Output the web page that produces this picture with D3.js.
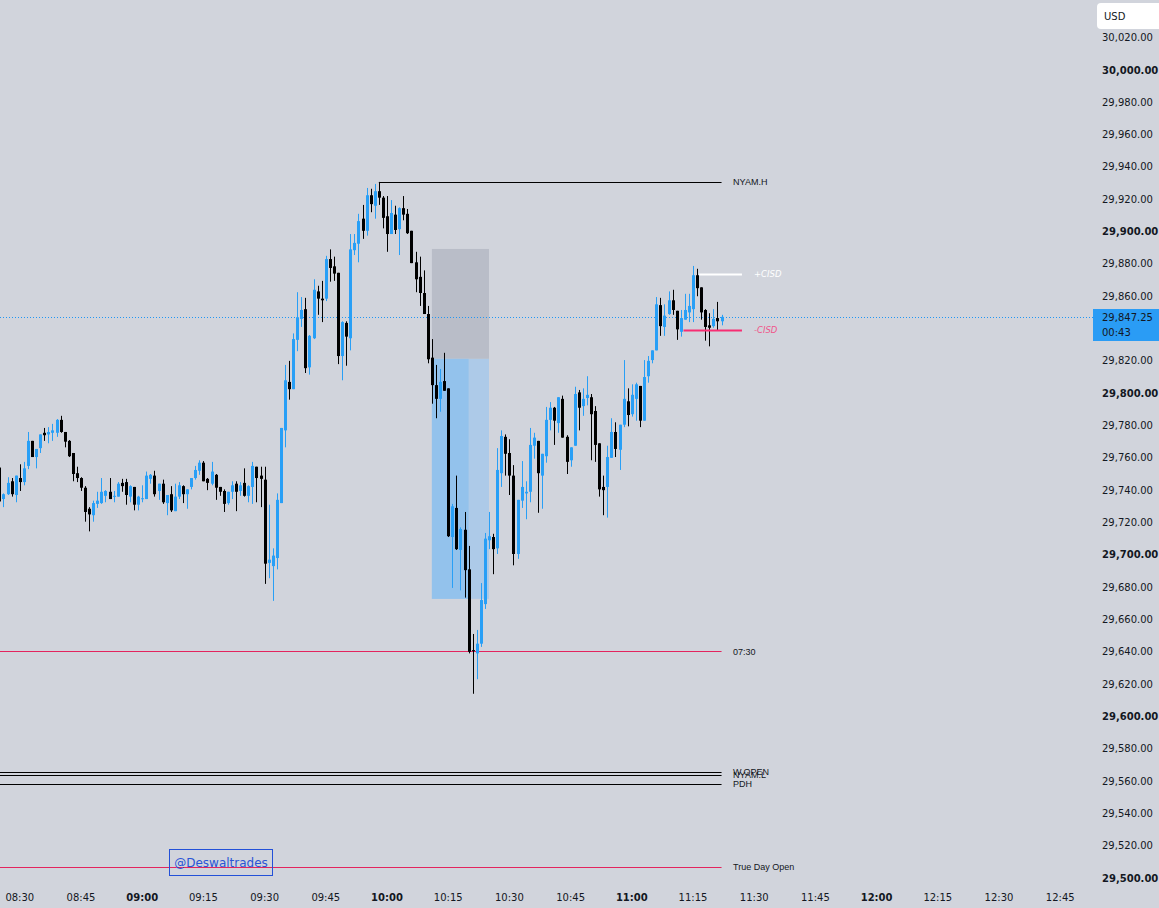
<!DOCTYPE html>
<html><head><meta charset="utf-8">
<script src="https://cdn.jsdelivr.net/npm/d3@7"></script>
<style>html,body{margin:0;padding:0;background:#d1d4dc;overflow:hidden}svg{display:block}</style>
</head><body><svg id="c" width="1159" height="908"></svg>
<script>
// ---------- DATA ----------
const firstCandle = "08:25";           // 1-minute candles
// [open, high, low, close]
const candles = [
[29754,29756,29732,29733],[29734.5,29738,29729.5,29737.5],[29737.5,29748,29737,29744.5],[29745.5,29747.5,29736,29737.5],
[29737,29749,29732.5,29749],[29747.5,29756,29739.5,29745],[29745,29757.5,29743,29753.5],[29755,29776,29753,29770.5],
[29770.5,29770.5,29760.5,29760.5],[29760.5,29765.5,29753.5,29765.5],[29766,29774.5,29763,29774.5],[29775.5,29778.5,29770.5,29774],
[29774.5,29779,29769,29776],[29775.5,29781,29770.5,29777],[29775.5,29784,29773,29783.5],[29783.5,29786,29775.5,29776],
[29776,29776,29766.5,29770],[29770.5,29771,29760.5,29761],[29763,29763,29745.5,29750],[29750.5,29754.5,29745,29747.5],
[29747.5,29748,29739.5,29741.5],[29741.5,29742.5,29720.5,29726.5],[29728.5,29729.5,29714.5,29725],[29724.5,29733.5,29720.5,29732],
[29731.5,29739,29729,29733.5],[29732,29747.5,29731.5,29739],[29736.5,29740,29732.5,29739.5],[29739,29747.5,29734.5,29734.5],
[29736,29739.5,29732.5,29736.5],[29736,29745,29736,29744],[29744.5,29747,29739,29742.5],[29745,29747,29731,29737],
[29736,29743,29732.5,29742.5],[29742,29742,29727.5,29731],[29731,29736.5,29727.5,29736],[29734.5,29743,29732.5,29735],
[29734.5,29751.5,29734.5,29749],[29747,29750,29744,29749.5],[29749,29752,29736,29737.5],[29739.5,29744,29734,29744],
[29744,29746.5,29731.5,29732.5],[29732,29737,29724.5,29737],[29737.5,29742.5,29726.5,29727.5],[29727,29744,29727,29736],
[29736,29745,29734.5,29743],[29742.5,29743,29732,29737.5],[29737.5,29740.5,29728.5,29740.5],[29742,29747.5,29740.5,29747.5],
[29747.5,29755,29746.5,29752.5],[29752,29758.5,29749.5,29757],[29757,29758,29745.5,29745.5],[29747,29747.5,29740,29744.5],
[29744,29757.5,29743,29751.5],[29749.5,29750,29734,29741.5],[29742,29742,29736.5,29739],[29739.5,29740.5,29726.5,29731.5],
[29732,29739,29731,29739],[29739,29745.5,29734.5,29743],[29744,29745.5,29727,29739],[29739.5,29745,29736.5,29743],
[29744.5,29753.5,29736,29736.5],[29736.5,29743,29732.5,29742.5],[29742,29757.5,29731.5,29755],[29754.5,29754.5,29732.5,29747.5],
[29749,29754.5,29729.5,29747],[29746.5,29754.5,29682,29694.5],[29695,29731,29685.5,29697],[29693,29704,29671.5,29699.5],
[29698,29738,29691,29734],[29732,29778.5,29732,29778.5],[29777,29817.5,29766.5,29808],[29807,29820,29796,29802.5],
[29802.5,29837,29802.5,29833.5],[29833,29862.5,29826,29847],[29846,29859.5,29841,29851.5],[29852,29859,29812.5,29815.5],
[29816,29836,29811.5,29835.5],[29834,29870.5,29833.5,29864],[29863,29866.5,29848.5,29858.5],[29858.5,29869.5,29844,29857.5],
[29858.5,29885,29857,29883],[29883,29889,29869,29877.5],[29878.5,29884.5,29869.5,29874],[29874.5,29874.5,29818,29823],
[29823,29844.5,29808,29844],[29843.5,29844.5,29817,29835],[29834,29898.5,29826.5,29889],[29888.5,29898.5,29885.5,29893],
[29892.5,29911,29881,29906.5],[29908,29916.5,29895.5,29900.5],[29900.5,29927,29897.5,29922.5],[29922.5,29926.5,29912,29917],
[29916,29929.5,29908,29925],[29925,29930.75,29916.5,29921],[29921,29922,29902,29908.5],[29909.5,29922,29887.5,29898.5],
[29898.5,29919.5,29898.5,29911.5],[29910.5,29916,29898.5,29901],[29901.5,29915,29885.5,29914.5],[29914.5,29922,29907,29910.5],
[29911,29914,29898.5,29899],[29900.5,29900.5,29880.5,29880.5],[29881,29887.5,29862.5,29870.5],[29872,29884.5,29854,29862],
[29862,29876,29849,29849],[29849,29854,29818.5,29821],[29822,29833.5,29793.5,29805],[29805,29817.5,29784.5,29796.5],
[29796.5,29815,29788.5,29807],[29807.5,29825,29801.5,29801.5],[29803,29803,29711,29711.5],[29711,29731.5,29679.5,29730],
[29729,29749,29703,29703.5],[29703,29717,29678,29716],[29715.5,29726.5,29673.5,29690.5],[29691,29705.5,29639,29640],
[29641,29651,29614,29640.5],[29639,29653.5,29623,29645],[29645,29682.5,29643,29672],[29669.5,29713.5,29666.5,29710],
[29709,29726.5,29703.5,29711.5],[29711,29713,29688,29703.5],[29704,29766,29700.5,29752.5],[29750.5,29777,29742,29773.5],
[29773,29774.5,29749,29762.5],[29763,29771.5,29737,29749],[29749,29755.5,29693.5,29700.5],[29700.5,29734,29697.5,29734],
[29733.5,29758,29729,29742],[29738,29745.5,29722,29739],[29739,29778.5,29732.5,29768],[29767.5,29775.5,29759.5,29772.5],
[29770.5,29770.5,29726,29750.5],[29749,29762.5,29728.5,29762.5],[29761,29791.5,29757,29783.5],[29783.5,29794.5,29777,29791],
[29791,29791.5,29768,29783],[29781.5,29797.5,29775.5,29797.5],[29796.5,29798.5,29772.5,29772.5],[29773,29774,29750,29757.5],
[29758.5,29766.5,29754.5,29766.5],[29767.5,29804,29767.5,29799.5],[29800.5,29802,29777,29791],[29792,29803,29786,29796.5],
[29797,29810.5,29792.5,29799],[29797.5,29799.5,29758.5,29787],[29789,29792,29757.5,29768],[29769,29769,29736,29740.5],
[29742,29749,29724.5,29740],[29742,29767.5,29723,29760.5],[29760,29784.5,29760,29776],[29776,29782,29760.5,29765.5],
[29765,29780.5,29752.5,29780.5],[29780.5,29820.5,29779,29796.5],[29795,29803,29779.5,29786.5],[29787,29805.5,29785.5,29799],
[29796.5,29806.5,29783,29805.5],[29804.5,29804.5,29779,29783],[29783,29820.5,29783,29810],[29810.5,29823,29806.5,29820],
[29820.5,29826.5,29818.5,29826.5],[29826.5,29859.5,29826.5,29855],[29854.5,29859,29835.5,29841.5],[29841,29855,29835.5,29848],
[29849,29863,29848.5,29857.5],[29857.5,29864,29848.5,29851.5],[29851,29851,29833,29839.5],[29838,29851.5,29835,29846.5],
[29845.5,29861.5,29845.5,29851.5],[29850,29861.5,29844,29854],[29852,29878.75,29844,29873],[29873,29877,29860,29865],
[29865.5,29865.5,29845.5,29850],[29851.5,29852,29832.5,29841],[29842,29849.5,29829,29840.5],[29841.5,29852,29840.5,29846],
[29846.5,29856.5,29838.5,29844.5],[29844.5,29848.5,29842,29847.25]
];
const priceTicks = d3.range(29500, 30021, 20);
const timeTickLabels = ["08:30","08:45","09:00","09:15","09:30","09:45","10:00","10:15","10:30","10:45","11:00","11:15","11:30","11:45","12:00","12:15","12:30","12:45"];
// key levels
const levelNames  = ["NYAM.H","07:30","W.OPEN","NYAM.L","PDH","True Day Open"];
const levelPrices = [29930.75, 29640.25, 29565.5, 29563.75, 29558, 29506.75];
const levelStart  = ["09:58", null, null, null, null, null];
const levelKind   = ["black","red","black","black","black","red"];
// CISD marks
const cisdNames  = ["+CISD","-CISD"];
const cisdPrices = [29873.5, 29839];
const cisdStart  = ["11:16:30","11:12:40"];
const cisdEnd    = "11:27";
// zones: [startTime, endTime, topPrice, bottomPrice, kind]
const zones = [
  ["10:11","10:25",29889.25,29821.25,"gray"],
  ["10:11","10:25",29821.25,29672.75,"blue"],
  ["10:11","10:20",29821.25,29672.75,"blueDark"]
];
const lastPrice = 29847.25, countdown = "00:43", currency = "USD", watermark = "@Deswaltrades";

// ---------- SCALES ----------
const T = s => { const p = s.split(":").map(Number); return new Date(2024,0,1,p[0],p[1],p[2]||0); };
const x = d3.scaleTime().domain([T("08:30"), T("12:45")]).range([19.8, 1060.2]);
const y = d3.scaleLinear().domain([29500, 30000]).range([878, 70]);
const t0 = T(firstCandle);
const ct = i => new Date(t0.getTime() + i*60000);

const svg = d3.select("#c");
const W = 1159, H = 908, plotR = 1093;
const txt = "#131722", up = "#289ff6", down = "#000000", red = "#e3245e", pink = "#f72d73";
svg.append("rect").attr("width",W).attr("height",H).attr("fill","#d1d4dc");
const plot = svg.append("g");
plot.append("clipPath").attr("id","pc").append("rect").attr("x",0).attr("y",0).attr("width",plotR).attr("height",882);
const g = plot.append("g").attr("clip-path","url(#pc)");

// zones
const zfill = {gray:"#b9bdc8", blue:"#adcae8", blueDark:"#93c2ec"};
zones.forEach(z => {
  g.append("rect").attr("x",x(T(z[0]))).attr("width",x(T(z[1]))-x(T(z[0])))
   .attr("y",y(z[2])).attr("height",y(z[3])-y(z[2])).attr("fill",zfill[z[4]]);
});

// level lines
const lastT = ct(candles.length-1);
levelNames.forEach((n,i) => {
  const yy = Math.round(y(levelPrices[i]))+0.5;
  const x0 = levelStart[i] ? x(T(levelStart[i])) : 0;
  const col = levelKind[i]==="red" ? red : "#000";
  g.append("line").attr("x1",x0).attr("x2",x(lastT)).attr("y1",yy).attr("y2",yy).attr("stroke",col).attr("stroke-width",1);
  if (levelStart[i]) g.append("line").attr("x1",Math.round(x0)+0.5).attr("x2",Math.round(x0)+0.5).attr("y1",yy).attr("y2",yy+4).attr("stroke","#000");
  g.append("text").attr("x",x(lastT)+11.5).attr("y",y(levelPrices[i])).attr("dy","0.35em")
   .attr("font-family","Liberation Sans, Arial, sans-serif").attr("font-size",9).attr("fill",txt).text(n);
});

// current price dotted line
g.append("line").attr("x1",0).attr("x2",plotR).attr("y1",Math.round(y(lastPrice))+0.5).attr("y2",Math.round(y(lastPrice))+0.5)
 .attr("stroke","#2196f3").attr("stroke-width",1).attr("stroke-dasharray","1 2");

// candles
const cg = g.append("g");
candles.forEach((c,i) => {
  const xc = Math.round(x(ct(i)));
  const col = c[3] >= c[0] ? up : down;
  cg.append("line").attr("x1",xc+0.5).attr("x2",xc+0.5).attr("y1",y(c[1])).attr("y2",y(c[2])).attr("stroke",col).attr("stroke-width",1);
  const top = y(Math.max(c[0],c[3])), bot = y(Math.min(c[0],c[3]));
  cg.append("rect").attr("x",xc-1).attr("width",3).attr("y",top).attr("height",Math.max(1,bot-top)).attr("fill",col);
});

// CISD
cisdNames.forEach((n,i) => {
  const yy = Math.round(y(cisdPrices[i]))+0.5;
  const col = i===0 ? "#ffffff" : pink;
  g.append("line").attr("x1",x(T(cisdStart[i]))).attr("x2",x(T(cisdEnd))).attr("y1",yy).attr("y2",yy).attr("stroke",col).attr("stroke-width",2);
  g.append("text").attr("x",x(T(cisdEnd))+12).attr("y",yy).attr("dy","0.35em").attr("font-style","italic")
   .attr("font-family","DejaVu Sans, sans-serif").attr("font-size",8.5).attr("fill", i===0 ? "#ffffff" : "#f0558a").text(n);
});

// watermark
const wm = svg.append("g");
wm.append("rect").attr("x",169.5).attr("y",849.5).attr("width",103).attr("height",26).attr("fill","none").attr("stroke","#2350d8").attr("stroke-width",1);
wm.append("text").attr("x",221).attr("y",862.5).attr("dy","0.35em").attr("text-anchor","middle")
  .attr("font-family","DejaVu Sans, sans-serif").attr("font-size",12).attr("fill","#2a55d6").text(watermark);

// price axis (labels hidden behind the last-price box are not drawn)
const boxTop = 309, boxBot = 341;
const pa = svg.append("g");
priceTicks.filter(p => y(p) < boxTop - 4 || y(p) > boxBot + 4).forEach(p => {
  pa.append("text").attr("x",1102).attr("y",y(p)).attr("dy","0.35em")
    .attr("font-family","DejaVu Sans, sans-serif").attr("font-size",10)
    .attr("font-weight", p % 100 === 0 ? "bold" : "normal").attr("fill",txt)
    .text(d3.format(",.2f")(p));
});
// last price label
pa.append("rect").attr("x",1093).attr("y",boxTop).attr("width",66).attr("height",boxBot-boxTop).attr("fill","#2a9cf5");
pa.append("text").attr("x",1102).attr("y",y(lastPrice)+0.5).attr("dy","0.35em").attr("font-family","DejaVu Sans, sans-serif")
  .attr("font-size",10).attr("fill",txt).text(d3.format(",.2f")(lastPrice));
pa.append("text").attr("x",1102).attr("y",332).attr("dy","0.35em").attr("font-family","DejaVu Sans, sans-serif")
  .attr("font-size",10).attr("fill",txt).text(countdown);
// currency box
pa.append("rect").attr("x",1097).attr("y",3).attr("width",70).attr("height",26).attr("rx",4).attr("fill","#ffffff");
pa.append("text").attr("x",1104).attr("y",16.5).attr("dy","0.35em").attr("font-family","DejaVu Sans, sans-serif")
  .attr("font-size",10).attr("fill",txt).text(currency);

// time axis
const ta = svg.append("g");
timeTickLabels.forEach(s => {
  ta.append("text").attr("x",x(T(s))).attr("y",897.5).attr("dy","0.35em").attr("text-anchor","middle")
    .attr("font-family","DejaVu Sans, sans-serif").attr("font-size",10)
    .attr("font-weight", s.endsWith(":00") ? "bold" : "normal").attr("fill",txt).text(s);
});
</script>
</body></html>
